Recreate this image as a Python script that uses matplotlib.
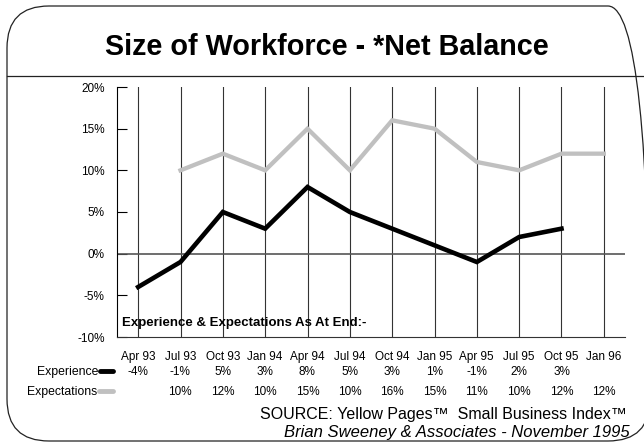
import matplotlib.pyplot as plt
from matplotlib.patches import FancyBboxPatch
from matplotlib.lines import Line2D
from matplotlib.transforms import IdentityTransform

plt.rcParams['font.family'] = ['Liberation Sans', 'DejaVu Sans']

quarters = ['Apr 93', 'Jul 93', 'Oct 93', 'Jan 94', 'Apr 94', 'Jul 94',
            'Oct 94', 'Jan 95', 'Apr 95', 'Jul 95', 'Oct 95', 'Jan 96']
experience = [-4, -1, 5, 3, 8, 5, 3, 1, -1, 2, 3, None]
expectations = [None, 10, 12, 10, 15, 10, 16, 15, 11, 10, 12, 12]
y_ticks = [-10, -5, 0, 5, 10, 15, 20]

W, H = 644, 443
fig = plt.figure(figsize=(W / 100, H / 100), dpi=100)


def fx(x):
    return x / W


def fy(y):
    return 1 - y / H


# rounded frame and the rule under the title
frame = FancyBboxPatch((7, H - 441), 643, 435, boxstyle='round,pad=0,rounding_size=42',
                       transform=IdentityTransform(), fill=False, ec='#222222', lw=0.9,
                       clip_on=False)
fig.add_artist(frame)
fig.add_artist(Line2D([fx(7), fx(644)], [fy(76), fy(76)], transform=fig.transFigure,
                      color='#222222', lw=0.9))
fig.text(fx(327), fy(47), 'Size of Workforce - *Net Balance', ha='center', va='center',
         fontsize=20.7, fontweight='bold')

ax = fig.add_axes([fx(117), fy(337), fx(625 - 117), (337 - 87) / H])
x = list(range(len(quarters)))

ax.plot(x, [v if v is not None else float('nan') for v in expectations],
        color='#c0c0c0', lw=3.1, solid_joinstyle='miter', zorder=3)
ax.plot(x, [v if v is not None else float('nan') for v in experience],
        color='black', lw=3.3, solid_joinstyle='miter', zorder=4)

for xi in x:
    ax.axvline(xi, color='#333333', lw=0.8, zorder=1)
ax.axhline(0, color='#555555', lw=1.2, zorder=2)

ax.set_xlim(-0.5, len(quarters) - 0.5)
ax.set_ylim(-10, 20)
ax.set_yticks(y_ticks)
ax.set_yticklabels([f'{t}%' for t in y_ticks], fontsize=8.5)
ax.tick_params(axis='y', direction='in', length=7, width=0.8, pad=9)
ax.set_xticks([])
for side in ['top', 'right']:
    ax.spines[side].set_visible(False)
ax.spines['left'].set_color('black')
ax.spines['bottom'].set_color('#333333')

ax.text(-0.38, -8.3, 'Experience & Expectations As At End:-', fontsize=9.5,
        fontweight='bold', va='center', ha='left')

# data table under the chart, one column per quarter
for xi, q, e, p in zip(x, quarters, experience, expectations):
    cx = fx(138 + 42.35 * xi)
    fig.text(cx, fy(357), q, ha='center', va='center', fontsize=8.5)
    if e is not None:
        fig.text(cx, fy(372), f'{e}%', ha='center', va='center', fontsize=8.5)
    if p is not None:
        fig.text(cx, fy(392), f'{p}%', ha='center', va='center', fontsize=8.5)

fig.text(fx(98), fy(372), 'Experience', ha='right', va='center', fontsize=8.8)
fig.text(fx(97), fy(392), 'Expectations', ha='right', va='center', fontsize=8.8)
fig.add_artist(Line2D([fx(100), fx(113)], [fy(371), fy(371)], transform=fig.transFigure,
                      color='black', lw=3.5, solid_capstyle='round'))
fig.add_artist(Line2D([fx(99), fx(113)], [fy(391), fy(391)], transform=fig.transFigure,
                      color='#c0c0c0', lw=3.5, solid_capstyle='round'))

fig.text(fx(627), fy(415), 'SOURCE: Yellow Pages\u2122  Small Business Index\u2122',
         ha='right', va='center', fontsize=11.5)
fig.text(fx(630), fy(433), 'Brian Sweeney & Associates - November 1995',
         ha='right', va='center', fontsize=12, style='italic')

fig.savefig('out.png', dpi=100)
